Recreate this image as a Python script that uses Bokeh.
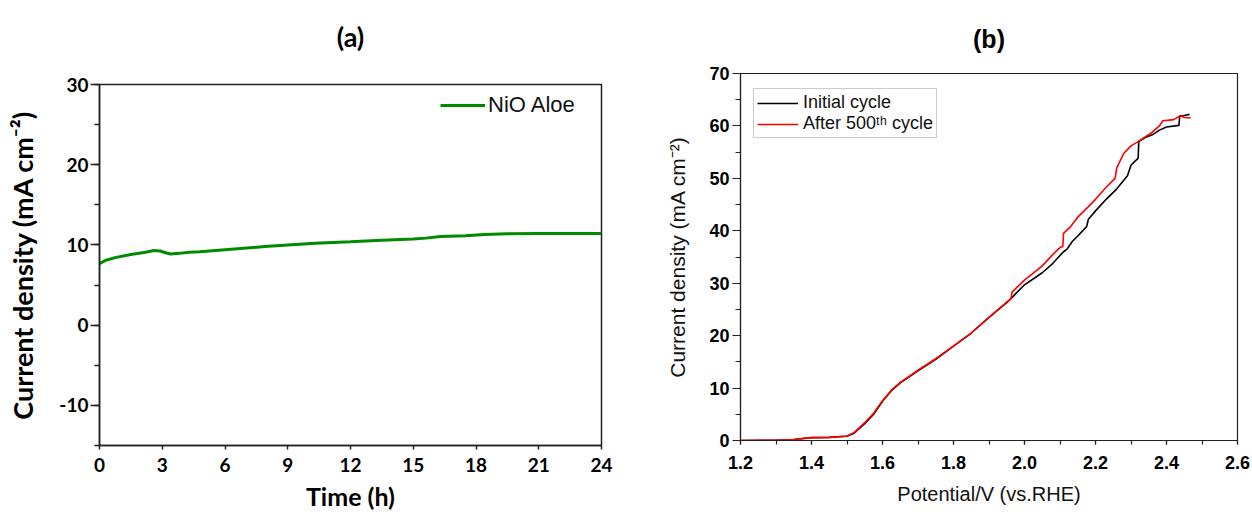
from bokeh.plotting import figure
from bokeh.layouts import row, column
from bokeh.models import (SingleIntervalTicker, Legend, LegendItem, Range1d, LinearAxis,
                          FixedTicker, PrintfTickFormatter)
from bokeh.embed import file_html
from bokeh.resources import INLINE

# ---- Panel (a) data: chronoamperometry ----
time_h = [0, 0.3, 0.8, 1.5, 2.2, 2.6, 2.9, 3.2, 3.4, 3.8, 4.3, 4.8, 6, 7.9, 9, 10.3,
          12, 13.5, 15, 15.6, 16.3, 17.5, 18.4, 19.5, 21, 24]
current_a = [7.65, 8.1, 8.45, 8.8, 9.1, 9.3, 9.25, 9.0, 8.88, 8.95, 9.1, 9.15, 9.4, 9.8,
             10.0, 10.2, 10.4, 10.6, 10.75, 10.85, 11.05, 11.15, 11.3, 11.38, 11.42, 11.42]
series_a = "NiO Aloe"
title_a = "(a)"

# ---- Panel (b) data: LSV curves ----
v_initial = [1.2, 1.3, 1.35, 1.4, 1.45, 1.5, 1.52, 1.55, 1.575, 1.6, 1.625, 1.65, 1.7, 1.75,
             1.8, 1.85, 1.9, 1.95, 1.965, 2.0, 2.05, 2.08, 2.1, 2.11, 2.12, 2.135, 2.15,
             2.175, 2.18, 2.2, 2.23, 2.26, 2.29, 2.3, 2.31, 2.32, 2.322, 2.34, 2.36, 2.38,
             2.4, 2.435, 2.437, 2.45, 2.465]
j_initial = [0, 0.05, 0.2, 0.55, 0.6, 0.8, 1.4, 3.2, 5.0, 7.5, 9.5, 11.0, 13.3, 15.5, 18.0,
             20.5, 23.5, 26.3, 27.3, 29.7, 32.0, 33.8, 35.3, 36.0, 36.5, 38.0, 39.0, 40.8,
             42.2, 43.8, 46.0, 48.0, 50.5, 52.5, 53.2, 53.8, 57.0, 57.8, 58.3, 59.2, 59.8,
             60.1, 61.8, 62.0, 62.2]
v_after = [1.2, 1.3, 1.35, 1.4, 1.45, 1.5, 1.52, 1.55, 1.575, 1.6, 1.625, 1.65, 1.7, 1.75,
           1.8, 1.85, 1.9, 1.95, 1.962, 1.965, 2.0, 2.05, 2.08, 2.1, 2.108, 2.11, 2.13, 2.15,
           2.18, 2.2, 2.23, 2.255, 2.26, 2.28, 2.3, 2.32, 2.34, 2.36, 2.38, 2.39, 2.42, 2.44,
           2.45, 2.468]
j_after = [0, 0.05, 0.2, 0.55, 0.6, 0.85, 1.5, 3.4, 5.2, 7.6, 9.6, 11.1, 13.4, 15.6, 18.0,
           20.5, 23.5, 26.4, 27.0, 28.3, 30.6, 33.3, 35.5, 36.8, 37.0, 39.5, 40.8, 42.6, 44.6,
           46.0, 48.3, 50.0, 52.0, 54.8, 56.2, 57.0, 57.9, 58.8, 60.0, 61.0, 61.2, 62.0, 61.6,
           61.5]
labels_b = ["Initial cycle", "After 500\u1d57\u02b0 cycle"]
title_b = "(b)"

FA = "Lato"
FB = "Liberation Sans"


def title_axis(text, font, size, standoff):
    """An invisible axis above the frame that only carries the panel title."""
    return LinearAxis(ticker=FixedTicker(ticks=[]), axis_label=text,
                      axis_line_color=None, major_tick_out=0, major_tick_in=0,
                      minor_tick_out=0, minor_tick_in=0, major_label_standoff=0,
                      axis_label_standoff=standoff, axis_label_text_font=font,
                      axis_label_text_font_size=size, axis_label_text_font_style="bold",
                      axis_label_text_color="black")


# ---------------- Panel (a) ----------------
pa = figure(width=620, height=518, output_backend="svg", toolbar_location=None,
            x_range=Range1d(0, 24), y_range=Range1d(-15, 30),
            min_border_left=99, min_border_right=19, min_border_top=84, min_border_bottom=73)
pa.add_layout(title_axis(title_a, FA, "27px", 32), "above")
pa.outline_line_color = "#222222"
pa.outline_line_width = 1.5
pa.xgrid.visible = False
pa.ygrid.visible = False

xa = pa.below[0]
ya = pa.left[0]
xa.ticker = SingleIntervalTicker(interval=3, num_minor_ticks=0)
ya.ticker = SingleIntervalTicker(interval=10, num_minor_ticks=2)
xa.formatter = PrintfTickFormatter(format="%d")
ya.formatter = PrintfTickFormatter(format="%d")
for ax in (xa, ya):
    ax.axis_line_width = 1.5
    ax.axis_line_color = "#222222"
    ax.major_tick_line_width = 1.5
    ax.minor_tick_line_width = 1.5
    ax.major_tick_line_color = "#222222"
    ax.minor_tick_line_color = "#222222"
    ax.major_tick_in = 0
    ax.minor_tick_in = 0
    ax.minor_tick_out = 5
    ax.major_label_text_font = FA
    ax.major_label_text_font_style = "bold"
    ax.major_label_text_font_size = "19px"
    ax.major_label_text_color = "black"
    ax.axis_label_text_font = FA
    ax.axis_label_text_font_style = "bold"
    ax.axis_label_text_color = "black"
xa.major_tick_out = 4
xa.axis_label_text_font_size = "25px"
xa.axis_label = "Time (h)"
xa.major_label_standoff = 8
xa.axis_label_standoff = 6
ya.major_tick_out = 9
ya.axis_label_text_font_size = "27px"
ya.axis_label = "Current density (mA cm\u207b\u00b2)"
ya.major_label_standoff = 2
ya.axis_label_standoff = 17

la = pa.line(time_h, current_a, line_color="#008a00", line_width=3)
leg_a = Legend(items=[LegendItem(label=series_a, renderers=[la])], location=(341, 327),
               border_line_color=None, background_fill_alpha=0, glyph_width=45,
               label_standoff=3, padding=0, margin=0,
               label_text_font=FB, label_text_font_size="22px", label_text_color="#111111")
pa.add_layout(leg_a)

# ---------------- Panel (b) ----------------
pb = figure(width=630, height=518, output_backend="svg", toolbar_location=None,
            x_range=Range1d(1.2, 2.6), y_range=Range1d(0, 70),
            min_border_left=120, min_border_right=13, min_border_top=73, min_border_bottom=78)
pb.add_layout(title_axis(title_b, FB, "25px", 21), "above")
pb.outline_line_color = "#222222"
pb.outline_line_width = 1.2
pb.xgrid.visible = False
pb.ygrid.visible = False
xb = pb.below[0]
yb = pb.left[0]
xb.ticker = SingleIntervalTicker(interval=0.2, num_minor_ticks=2)
yb.ticker = SingleIntervalTicker(interval=10, num_minor_ticks=2)
xb.formatter = PrintfTickFormatter(format="%.1f")
yb.formatter = PrintfTickFormatter(format="%d")
for ax in (xb, yb):
    ax.axis_line_width = 1.2
    ax.axis_line_color = "#222222"
    ax.major_tick_line_width = 1.2
    ax.minor_tick_line_width = 1.2
    ax.major_tick_line_color = "#222222"
    ax.minor_tick_line_color = "#222222"
    ax.major_tick_in = 0
    ax.minor_tick_in = 0
    ax.major_label_text_font = FB
    ax.major_label_text_font_style = "bold"
    ax.major_label_text_font_size = "18px"
    ax.major_label_text_color = "black"
    ax.axis_label_text_font = FB
    ax.axis_label_text_font_style = "normal"
    ax.axis_label_text_color = "#111111"
xb.major_tick_out = 4
xb.minor_tick_out = 4
yb.major_tick_out = 8
yb.minor_tick_out = 5
xb.axis_label_text_font_size = "20px"
yb.axis_label_text_font_size = "21px"
xb.axis_label = "Potential/V (vs.RHE)"
yb.axis_label = "Current density (mA cm\u207b\u00b2)"
xb.major_label_standoff = 11
yb.major_label_standoff = 3
xb.axis_label_standoff = 11
yb.axis_label_standoff = 17

l1 = pb.line(v_initial, j_initial, line_color="black", line_width=1.6)
l2 = pb.line(v_after, j_after, line_color="#ff0000", line_width=1.6)
leg_b = Legend(items=[LegendItem(label=labels_b[0], renderers=[l1]),
                      LegendItem(label=labels_b[1], renderers=[l2])],
               location=(13, 302), border_line_color="#999999", border_line_width=1,
               background_fill_color="white", background_fill_alpha=1,
               glyph_width=41, glyph_height=18, label_height=18, label_standoff=5,
               padding=3, spacing=0, margin=0,
               label_text_font=FB, label_text_font_size="18px", label_text_color="#111111")
pb.add_layout(leg_b)

layout = row(column(pa), column(pb))
open("out.html", "w").write(file_html(layout, INLINE))
